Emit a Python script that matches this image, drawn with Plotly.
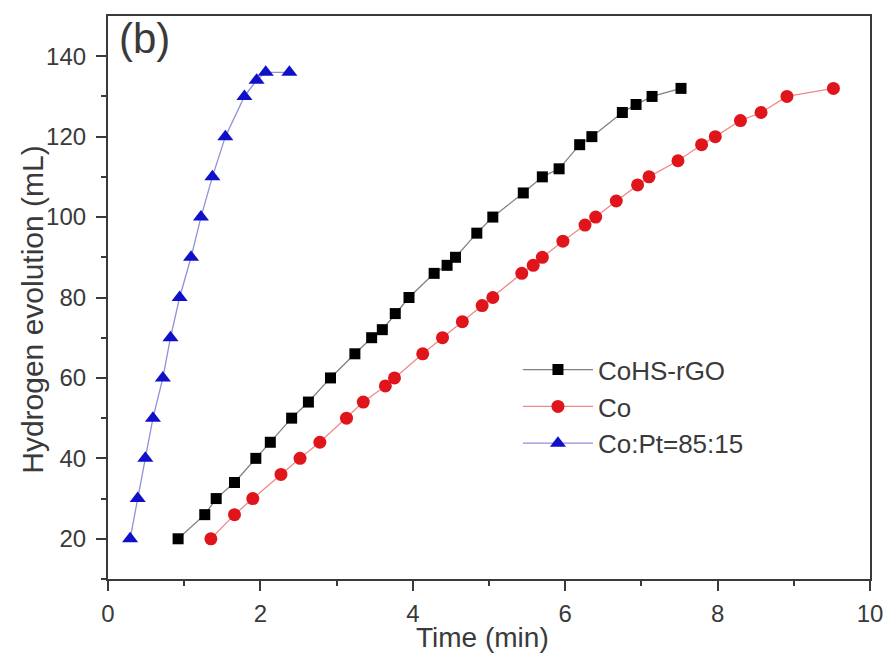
import plotly.graph_objects as go

# CoHS-rGO
t_cohs = [0.92, 1.27, 1.42, 1.66, 1.94, 2.13, 2.41, 2.63, 2.92, 3.24, 3.46, 3.6, 3.77, 3.95,
          4.28, 4.45, 4.56, 4.84, 5.05, 5.45, 5.70, 5.92, 6.19, 6.35, 6.75, 6.93, 7.14, 7.52]
v_cohs = [20, 26, 30, 34, 40, 44, 50, 54, 60, 66, 70, 72, 76, 80,
          86, 88, 90, 96, 100, 106, 110, 112, 118, 120, 126, 128, 130, 132]

# Co
t_co = [1.35, 1.66, 1.9, 2.27, 2.52, 2.78, 3.13, 3.35, 3.64, 3.76, 4.13, 4.39, 4.65, 4.91, 5.05,
        5.43, 5.58, 5.70, 5.97, 6.26, 6.40, 6.67, 6.95, 7.10, 7.48, 7.79, 7.97, 8.30, 8.57, 8.91, 9.52]
v_co = [20, 26, 30, 36, 40, 44, 50, 54, 58, 60, 66, 70, 74, 78, 80,
        86, 88, 90, 94, 98, 100, 104, 108, 110, 114, 118, 120, 124, 126, 130, 132]

# Co:Pt=85:15
t_copt = [0.29, 0.39, 0.49, 0.59, 0.72, 0.82, 0.94, 1.09, 1.22, 1.37, 1.54, 1.79, 1.95, 2.07, 2.38]
v_copt = [20, 30, 40, 50, 60, 70, 80, 90, 100, 110, 120, 130, 134, 136, 136]

x_ticks = [0, 2, 4, 6, 8, 10]
y_ticks = [20, 40, 60, 80, 100, 120, 140]

FONT = "Arial, Liberation Sans, Helvetica, sans-serif"
TXT = "#3a3a3a"

fig = go.Figure()
fig.add_trace(go.Scatter(x=t_cohs, y=v_cohs, mode="lines+markers", name="CoHS-rGO",
                         line=dict(color="#808080", width=1.3),
                         marker=dict(symbol="square", size=11, color="black")))
fig.add_trace(go.Scatter(x=t_co, y=v_co, mode="lines+markers", name="Co",
                         line=dict(color="#f08a8a", width=1.3),
                         marker=dict(symbol="circle", size=13, color="#e0151b")))
fig.add_trace(go.Scatter(x=t_copt, y=v_copt, mode="lines+markers", name="Co:Pt=85:15",
                         line=dict(color="#9090d8", width=1.3),
                         marker=dict(symbol="triangle-up", size=14, color="#1010c8")))

axis_common = dict(showline=True, linecolor="#3a3a3a", linewidth=2.2, mirror=True,
                   ticks="outside", ticklen=10, tickwidth=2, tickcolor="#3a3a3a",
                   showgrid=False, zeroline=False,
                   tickfont=dict(family=FONT, size=24, color=TXT))

fig.update_xaxes(range=[0, 10], tickvals=x_ticks, ticklabelstandoff=2,
                 minor=dict(tickvals=[1, 3, 5, 7, 9], ticks="outside", ticklen=5,
                            tickwidth=2, tickcolor="#3a3a3a"),
                 **axis_common)
fig.update_yaxes(range=[10, 150], tickvals=y_ticks, ticklabelstandoff=5,
                 minor=dict(tickvals=[10, 30, 50, 70, 90, 110, 130], ticks="outside", ticklen=5,
                            tickwidth=2, tickcolor="#3a3a3a"),
                 **axis_common)

# axis titles
fig.add_annotation(text="Time (min)", xref="paper", yref="paper", x=0.492, y=-0.104,
                   xanchor="center", yanchor="middle", showarrow=False,
                   font=dict(family=FONT, size=28, color=TXT))
fig.add_annotation(text="Hydrogen evolution (mL)", xref="paper", yref="paper",
                   x=-0.0987, y=0.4796, xanchor="center", yanchor="middle",
                   textangle=-90, showarrow=False,
                   font=dict(family=FONT, size=30, color=TXT))

fig.add_annotation(text="(b)", xref="paper", yref="paper", x=0.0117, y=1.0053,
                   xanchor="left", yanchor="top", showarrow=False,
                   font=dict(family=FONT, size=42, color=TXT))

fig.update_layout(width=895, height=657,
                  margin=dict(l=108, r=17, t=16, b=78),
                  paper_bgcolor="white", plot_bgcolor="white",
                  font=dict(family=FONT, color=TXT),
                  showlegend=True,
                  legend=dict(x=0.538, y=0.4135, xanchor="left", yanchor="top",
                              bgcolor="rgba(0,0,0,0)",
                              font=dict(family=FONT, size=26, color=TXT),
                              tracegroupgap=0, itemwidth=70))

fig.write_html("out.html")
